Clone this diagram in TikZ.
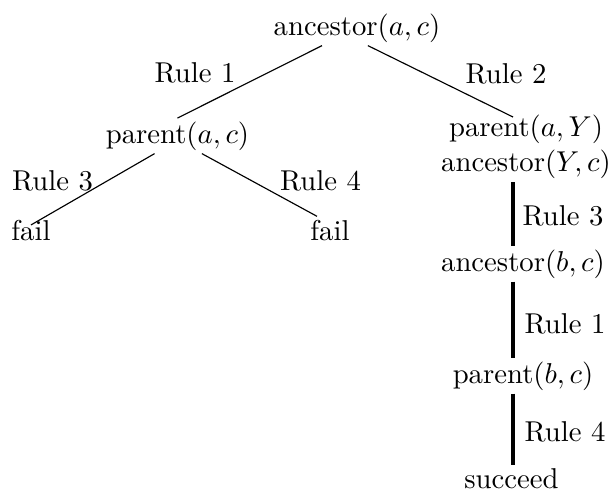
\documentclass[tikz,border=0pt]{standalone}
\usetikzlibrary{calc}
\begin{document}
\begin{tikzpicture}[x=0.3484pt, y=-0.3484pt,
  every node/.style={inner sep=1pt},
  goal/.style={anchor=base, inner sep=1pt},
  lbl/.style={anchor=base, inner sep=1pt},
  edge/.style={line width=0.4pt},
  chain/.style={line width=1.1pt}]
\path[use as bounding box] (0,0) rectangle (613,491);
% goal nodes
\node[goal] (root) at (357,35) {ancestor$(a,c)$};
\node[goal] (pac) at (177.5,143) {parent$(a,c)$};
\node[anchor=north, align=center, inner sep=1pt] (pY) at (526,112) {parent$(a,Y)$\\ancestor$(Y,c)$};
\node[goal] (f1) at (31,240) {fail};
\node[goal] (f2) at (330,240) {fail};
\node[goal] (abc) at (523,271) {ancestor$(b,c)$};
\node[goal] (pbc) at (523,383) {parent$(b,c)$};
\node[goal] (succ) at (511.5,488) {succeed};
\coordinate (vx) at (513,0);
% rule labels
\node[lbl] (r1) at (195,82) {Rule 1};
\node[lbl] (r2) at (506,83) {Rule 2};
\node[lbl] (r3a) at (52.5,190) {Rule 3};
\node[lbl] (r4a) at (320.5,190) {Rule 4};
\node[lbl] (r3b) at (563,225) {Rule 3};
\node[lbl] (r1b) at (565,333) {Rule 1};
\node[lbl] (r4b) at (565,441) {Rule 4};
% connectors
\draw[edge] ([xshift=-12.2pt]root.south) -- (pac.north);
\draw[edge] ([xshift=3.8pt]root.south) -- ($(pY.north -| vx)+(0,5)$);
\draw[edge] ([xshift=-8pt]pac.south) -- ($(f1.north)+(0,8.6)$);
\draw[edge] ([xshift=8.5pt]pac.south) -- ($(f2.north)+(-13,0)$);
\draw[chain] (pY.south -| vx) -- (abc.north -| vx);
\draw[chain] (abc.south -| vx) -- (pbc.north -| vx);
\draw[chain] (pbc.south -| vx) -- (succ.north -| vx);
\end{tikzpicture}
\end{document}
